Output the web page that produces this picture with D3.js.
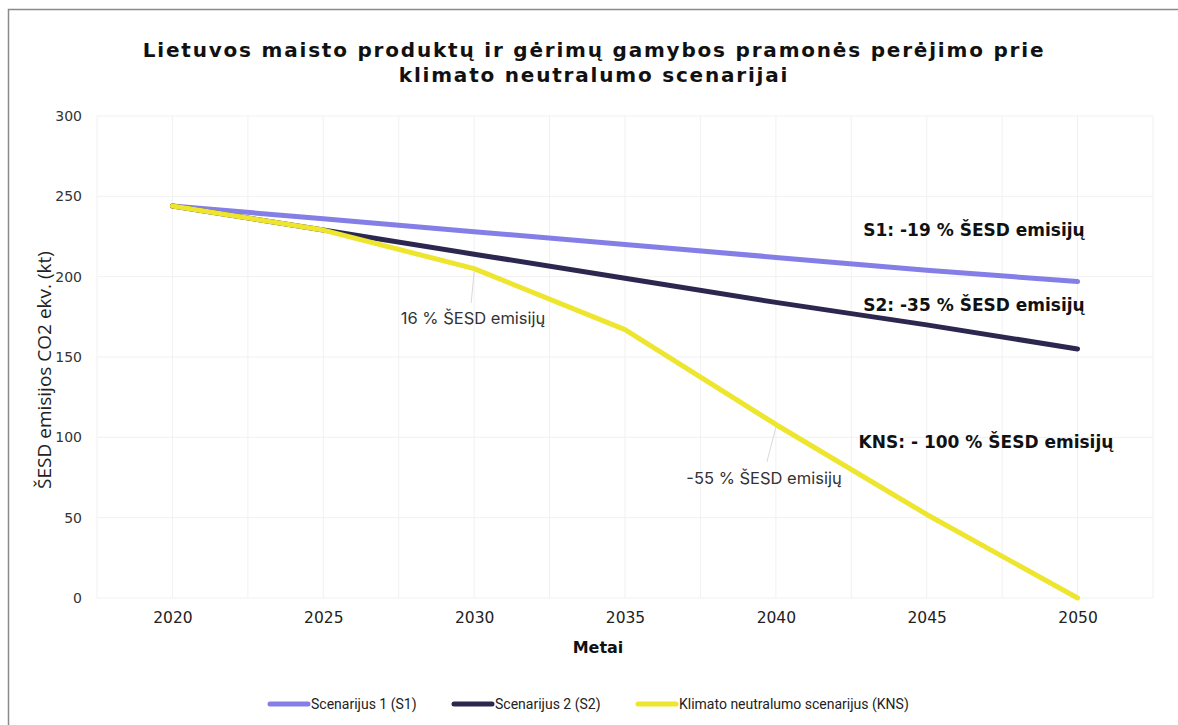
<!DOCTYPE html>
<html><head><meta charset="utf-8">
<script src="https://cdn.jsdelivr.net/npm/d3@7"></script>
<style>html,body{margin:0;padding:0;background:#fff;}svg{display:block;}</style>
</head><body>
<svg id="chart" width="1178" height="725"></svg>
<script>
const years = ["2020","2025","2030","2035","2040","2045","2050"];
const s1 = [244, 236, 228, 220, 212, 204, 197];
const s2 = [244, 229, 214, 199, 184, 170, 155];
const kns = [244, 229, 205, 167, 108, 52, 0];
const yTicks = [0, 50, 100, 150, 200, 250, 300];
const seriesNames = ["Scenarijus 1 (S1)", "Scenarijus 2 (S2)", "Klimato neutralumo scenarijus (KNS)"];
const seriesColors = ["#847fe6", "#2c274f", "#ede52e"];
const titleLines = ["Lietuvos maisto produktų ir gėrimų gamybos pramonės perėjimo prie", "klimato neutralumo scenarijai"];
const endLabels = ["S1: -19 % ŠESD emisijų", "S2: -35 % ŠESD emisijų", "KNS: - 100 % ŠESD emisijų"];
const midLabels = ["16 % ŠESD emisijų", "-55 % ŠESD emisijų"];

const svg = d3.select("#chart");
const W = 1178, H = 725;
const L = 97, R = 1153, T = 116, B = 598;

svg.append("rect").attr("width", W).attr("height", H).attr("fill", "#fff");
svg.append("path").attr("d", `M8.5,${H+5}V9.5H${W+5}`).attr("fill","none").attr("stroke","#8a8a8a").attr("stroke-width",1.5);

const x = d3.scalePoint().domain(years).range([L, R]).padding(0.5);
const y = d3.scaleLinear().domain([0, 300]).range([B, T]);
const step = x.step();

// grid
const g = svg.append("g");
const vgrid = [];
for (let i = 0; i <= years.length * 2; i++) vgrid.push(L + i * step / 2);
g.selectAll("line.v").data(vgrid).enter().append("line")
  .attr("x1", d => d).attr("x2", d => d).attr("y1", T).attr("y2", B)
  .attr("stroke", "#f1f1f1").attr("stroke-width", 1);
g.selectAll("line.h").data(yTicks).enter().append("line")
  .attr("x1", L).attr("x2", R).attr("y1", d => y(d)).attr("y2", d => y(d))
  .attr("stroke", "#f1f1f1").attr("stroke-width", 1);

// axes
const yAxis = d3.axisLeft(y).tickValues(yTicks).tickSize(0).tickPadding(15);
const ya = svg.append("g").attr("transform", `translate(${L},0)`).call(yAxis);
ya.select(".domain").remove();
ya.selectAll("text").attr("font-family", "DejaVu Sans").attr("font-size", 14).attr("fill", "#333");

const xAxis = d3.axisBottom(x).tickSize(0).tickPadding(14);
const xa = svg.append("g").attr("transform", `translate(0,${B})`).call(xAxis);
xa.select(".domain").remove();
xa.selectAll("text").attr("font-family", "DejaVu Sans").attr("font-size", 15.5).attr("fill", "#222");

// lines
const allSeries = [s1, s2, kns];
const line = d3.line().x((d, i) => x(years[i])).y(d => y(d));
allSeries.forEach((s, k) => {
  svg.append("path").datum(s).attr("d", line).attr("fill", "none")
    .attr("stroke", seriesColors[k]).attr("stroke-width", 5)
    .attr("stroke-linecap", "round").attr("stroke-linejoin", "round");
});

// title
svg.append("text").attr("x", 594).attr("y", 57).attr("text-anchor", "middle")
  .attr("font-family", "DejaVu Sans").attr("font-weight", "bold").attr("font-size", 20)
  .attr("letter-spacing", 1.8).attr("fill", "#111").text(titleLines[0]);
svg.append("text").attr("x", 594).attr("y", 82).attr("text-anchor", "middle")
  .attr("font-family", "DejaVu Sans").attr("font-weight", "bold").attr("font-size", 20)
  .attr("letter-spacing", 1.8).attr("fill", "#111").text(titleLines[1]);

// axis titles
svg.append("text").attr("x", 598).attr("y", 653).attr("text-anchor", "middle")
  .attr("font-family", "DejaVu Sans").attr("font-weight", "bold").attr("font-size", 16)
  .attr("fill", "#111").text("Metai");
svg.append("text").attr("transform", "translate(51,370) rotate(-90)").attr("text-anchor", "middle")
  .attr("font-family", "Open Sans").attr("font-size", 19).attr("fill", "#222")
  .text("ŠESD emisijos CO2 ekv. (kt)");

// end labels
const endPos = [[974, 236], [974, 311], [986, 448]];
endLabels.forEach((t, i) => {
  svg.append("text").attr("x", endPos[i][0]).attr("y", endPos[i][1]).attr("text-anchor", "middle")
    .attr("font-family", "DejaVu Sans").attr("font-weight", "bold").attr("font-size", 17)
    .attr("fill", "#111").text(t);
});

// mid labels with leader lines
const leaders = [[x("2030"), y(kns[2]) + 3, x("2030") - 3, 303], [x("2040"), y(kns[4]) + 3, x("2040") - 9, 462]];
leaders.forEach(l => {
  svg.append("line").attr("x1", l[0]).attr("y1", l[1]).attr("x2", l[2]).attr("y2", l[3])
    .attr("stroke", "#d9d9d9").attr("stroke-width", 1);
});
const midPos = [[473, 324], [764, 484]];
midLabels.forEach((t, i) => {
  svg.append("text").attr("x", midPos[i][0]).attr("y", midPos[i][1]).attr("text-anchor", "middle")
    .attr("font-family", "Inter").attr("font-size", 16.5).attr("fill", "#333").text(t);
});

// legend
const legX = [270, 454, 638];
seriesNames.forEach((n, i) => {
  const lg = svg.append("g").attr("transform", `translate(${legX[i]},704)`);
  lg.append("line").attr("x1", 0).attr("x2", 38).attr("y1", 0).attr("y2", 0)
    .attr("stroke", seriesColors[i]).attr("stroke-width", 5).attr("stroke-linecap", "round");
  lg.append("text").attr("x", 41).attr("y", 5).attr("font-family", "Liberation Sans Narrow, Roboto, sans-serif")
    .attr("font-size", 14).attr("fill", "#222").text(n);
});
</script>
</body></html>
